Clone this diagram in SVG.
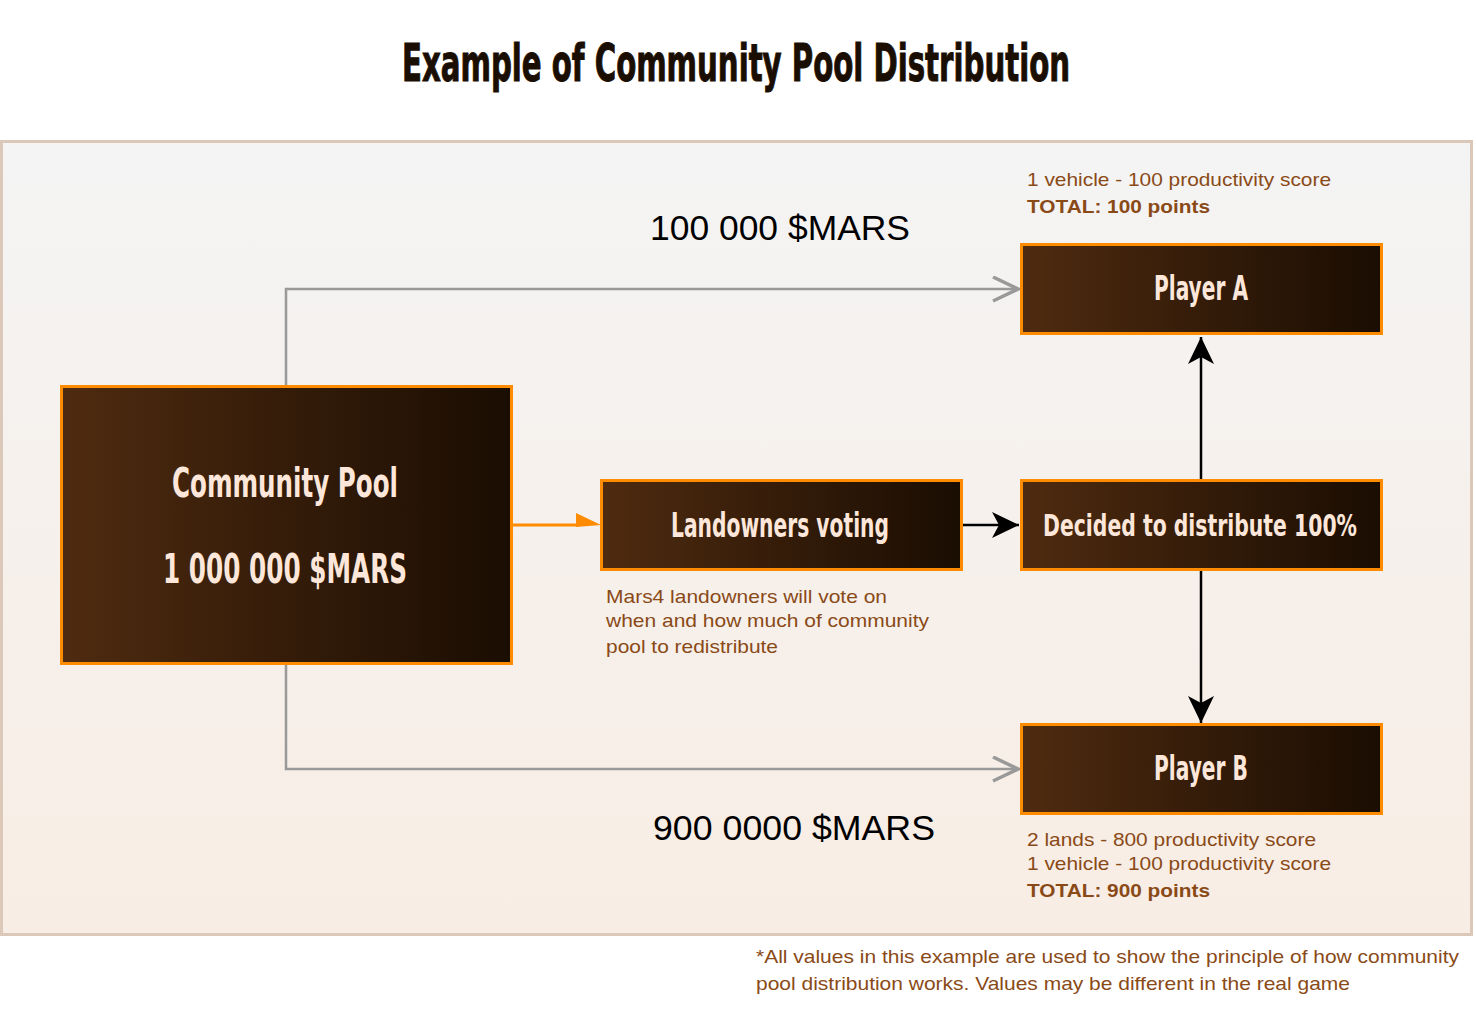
<svg xmlns="http://www.w3.org/2000/svg" width="1476" height="1023" viewBox="0 0 1476 1023">
<style>
.node{stroke:#ff8c00;stroke-width:3;fill:url(#nodeGrad)}
.nt{font-family:"DejaVu Sans Condensed","DejaVu Sans",sans-serif;font-stretch:condensed;font-weight:bold;fill:#fde7da;text-anchor:middle}
.note{font-family:"Liberation Sans",Arial,sans-serif;font-size:19px;fill:#8a4a17}
.big{font-family:"Liberation Sans",Arial,sans-serif;font-size:35px;fill:#000}
.gray{fill:none;stroke:#999;stroke-width:2.5}
.blk{fill:none;stroke:#000;stroke-width:2.5}
</style>
<defs>
<linearGradient id="nodeGrad" x1="0" y1="0" x2="1" y2="0">
<stop offset="0" stop-color="#4f2b10"/>
<stop offset="1" stop-color="#1a0d02"/>
</linearGradient>
<linearGradient id="bgGrad" x1="0" y1="0" x2="0" y2="1">
<stop offset="0" stop-color="#f4f4f4"/>
<stop offset="1" stop-color="#f8ede4"/>
</linearGradient>
<marker id="grayArrow" markerUnits="userSpaceOnUse" markerWidth="30" markerHeight="30" refX="27" refY="13" orient="auto" viewBox="0 0 30 30">
<path d="M1,1 L26,13 L1,25" fill="none" stroke="#999" stroke-width="3.5" stroke-linejoin="miter"/>
</marker>
<marker id="blackArrow" markerUnits="userSpaceOnUse" markerWidth="30" markerHeight="30" refX="27" refY="13" orient="auto" viewBox="0 0 30 30">
<path d="M0,0 L27,13 L0,26 L7,13 Z" fill="#000"/>
</marker>
</defs>
<rect x="0" y="0" width="1476" height="1023" fill="#fff"/>
<g id="title">
<text x="736" y="81" font-family="'DejaVu Sans Condensed','DejaVu Sans',sans-serif" font-stretch="condensed" font-weight="bold" font-size="51" fill="#1a0e02" stroke="#1a0e02" stroke-width="1" text-anchor="middle" textLength="668" lengthAdjust="spacingAndGlyphs">Example of Community Pool Distribution</text>
</g>
<g id="container">
<rect x="1.5" y="141.5" width="1470" height="793" fill="url(#bgGrad)" stroke="#dcc8b8" stroke-width="3"/>
</g>
<g id="connectors">
<path class="gray" d="M286,386 V289 H1019" marker-end="url(#grayArrow)"/>
<path class="gray" d="M286,664 V769 H1019" marker-end="url(#grayArrow)"/>
<path d="M511,525 H578" fill="none" stroke="#ff8c00" stroke-width="3"/>
<polygon points="576,513 601,525 576,527" fill="#ff8c00"/>
<path class="blk" d="M961,525 H1019" marker-end="url(#blackArrow)"/>
<path class="blk" d="M1201,480 V337" marker-end="url(#blackArrow)"/>
<path class="blk" d="M1201,570 V723" marker-end="url(#blackArrow)"/>
</g>
<g id="community-pool">
<rect class="node" x="61.5" y="386.5" width="450" height="277"/>
<text class="nt" x="285" y="497" font-size="40" textLength="226" lengthAdjust="spacingAndGlyphs">Community Pool</text>
<text class="nt" x="285" y="583" font-size="40" textLength="244" lengthAdjust="spacingAndGlyphs">1 000 000 $MARS</text>
</g>
<g id="landowners-voting">
<rect class="node" x="601.5" y="480.5" width="360" height="89"/>
<text class="nt" x="780" y="537" font-size="33" textLength="218" lengthAdjust="spacingAndGlyphs">Landowners voting</text>
</g>
<g id="decided">
<rect class="node" x="1021.5" y="480.5" width="360" height="89"/>
<text class="nt" x="1200" y="536" font-size="30" textLength="314" lengthAdjust="spacingAndGlyphs">Decided to distribute 100%</text>
</g>
<g id="player-a">
<rect class="node" x="1021.5" y="244.5" width="360" height="89"/>
<text class="nt" x="1201" y="300" font-size="33" textLength="94" lengthAdjust="spacingAndGlyphs">Player A</text>
</g>
<g id="player-b">
<rect class="node" x="1021.5" y="724.5" width="360" height="89"/>
<text class="nt" x="1201" y="780" font-size="33" textLength="94" lengthAdjust="spacingAndGlyphs">Player B</text>
</g>
<g id="labels">
<text class="big" x="650" y="240" textLength="260" lengthAdjust="spacingAndGlyphs">100 000 $MARS</text>
<text class="big" x="653" y="840" textLength="282" lengthAdjust="spacingAndGlyphs">900 0000 $MARS</text>
<text class="note" x="1027" y="186" textLength="304" lengthAdjust="spacingAndGlyphs">1 vehicle - 100 productivity score</text>
<text class="note" x="1027" y="213" font-weight="bold" textLength="183" lengthAdjust="spacingAndGlyphs">TOTAL: 100 points</text>
<text class="note" x="606" y="603" textLength="281" lengthAdjust="spacingAndGlyphs">Mars4 landowners will vote on</text>
<text class="note" x="606" y="627" textLength="323" lengthAdjust="spacingAndGlyphs">when and how much of community</text>
<text class="note" x="606" y="653" textLength="172" lengthAdjust="spacingAndGlyphs">pool to redistribute</text>
<text class="note" x="1027" y="846" textLength="289" lengthAdjust="spacingAndGlyphs">2 lands - 800 productivity score</text>
<text class="note" x="1027" y="870" textLength="304" lengthAdjust="spacingAndGlyphs">1 vehicle - 100 productivity score</text>
<text class="note" x="1027" y="897" font-weight="bold" textLength="183" lengthAdjust="spacingAndGlyphs">TOTAL: 900 points</text>
<text class="note" x="756" y="963" textLength="703" lengthAdjust="spacingAndGlyphs">*All values in this example are used to show the principle of how community</text>
<text class="note" x="756" y="990" textLength="594" lengthAdjust="spacingAndGlyphs">pool distribution works. Values may be different in the real game</text>
</g>
</svg>
